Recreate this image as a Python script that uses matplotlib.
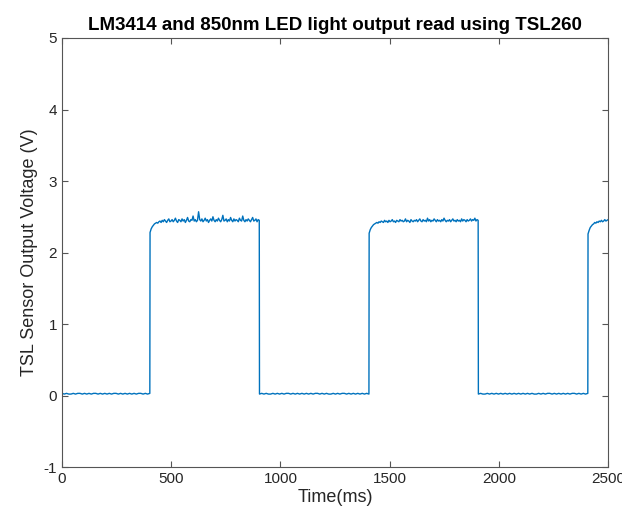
import numpy as np
import matplotlib
matplotlib.use('Agg')
import matplotlib.pyplot as plt

# Edge times (ms)
rise_times = [403, 1406, 2408]
fall_times = [903, 1905]
t_end = 2500

# Low level readings (V), roughly every 10 ms
low1 = [0.03, 0.02, 0.03, 0.02, 0.02, 0.03, 0.02, 0.03, 0.03, 0.02,
        0.03, 0.02, 0.03, 0.02, 0.03, 0.03, 0.02, 0.03, 0.02, 0.03,
        0.02, 0.03, 0.02, 0.03, 0.03, 0.02, 0.03, 0.02, 0.03, 0.02,
        0.03, 0.02, 0.03, 0.02, 0.03, 0.03, 0.02, 0.03, 0.02, 0.03]
low2 = [0.02, 0.03, 0.02, 0.03, 0.02, 0.02, 0.03, 0.02, 0.03, 0.02,
        0.03, 0.02, 0.03, 0.03, 0.02, 0.03, 0.02, 0.03, 0.02, 0.03,
        0.02, 0.03, 0.02, 0.03, 0.02, 0.03, 0.03, 0.02, 0.03, 0.02,
        0.03, 0.02, 0.02, 0.03, 0.02, 0.03, 0.02, 0.03, 0.03, 0.02,
        0.03, 0.02, 0.03, 0.02, 0.03, 0.02, 0.03, 0.02, 0.03, 0.02]
low3 = [0.02, 0.03, 0.02, 0.02, 0.03, 0.02, 0.03, 0.02, 0.03, 0.02,
        0.03, 0.02, 0.03, 0.02, 0.03, 0.02, 0.03, 0.02, 0.03, 0.02,
        0.03, 0.02, 0.03, 0.02, 0.03, 0.02, 0.02, 0.03, 0.02, 0.03,
        0.02, 0.03, 0.03, 0.02, 0.03, 0.02, 0.03, 0.02, 0.03, 0.02,
        0.03, 0.02, 0.03, 0.03, 0.02, 0.03, 0.02, 0.03, 0.02, 0.03]

# High level readings (V), roughly every 5 ms
high1 = [2.28, 2.33, 2.36, 2.38, 2.40, 2.41, 2.42, 2.41, 2.43, 2.44,
         2.42, 2.45, 2.43, 2.46, 2.44, 2.42, 2.45, 2.47, 2.43, 2.44,
         2.46, 2.43, 2.45, 2.48, 2.44, 2.42, 2.46, 2.45, 2.43, 2.47,
         2.44, 2.46, 2.42, 2.45, 2.49, 2.44, 2.43, 2.46, 2.45, 2.51,
         2.44, 2.46, 2.43, 2.45, 2.57, 2.46, 2.44, 2.47, 2.43, 2.45,
         2.48, 2.44, 2.46, 2.42, 2.45, 2.47, 2.44, 2.50, 2.45, 2.43,
         2.46, 2.44, 2.48, 2.45, 2.43, 2.46, 2.52, 2.44, 2.45, 2.47,
         2.43, 2.46, 2.44, 2.49, 2.45, 2.43, 2.47, 2.44, 2.46, 2.45,
         2.43, 2.48, 2.45, 2.44, 2.51, 2.45, 2.43, 2.46, 2.44, 2.47,
         2.45, 2.43, 2.46, 2.49, 2.44, 2.45, 2.47, 2.43, 2.46, 2.45]
high2 = [2.27, 2.32, 2.35, 2.37, 2.39, 2.40, 2.41, 2.42, 2.41, 2.43,
         2.42, 2.44, 2.43, 2.42, 2.45, 2.43, 2.44, 2.42, 2.45, 2.43,
         2.44, 2.46, 2.43, 2.44, 2.42, 2.45, 2.44, 2.43, 2.46, 2.44,
         2.45, 2.43, 2.44, 2.47, 2.43, 2.45, 2.44, 2.42, 2.46, 2.44,
         2.43, 2.45, 2.44, 2.46, 2.43, 2.45, 2.47, 2.44, 2.43, 2.46,
         2.44, 2.45, 2.43, 2.48, 2.44, 2.46, 2.43, 2.45, 2.44, 2.47,
         2.45, 2.43, 2.46, 2.44, 2.45, 2.43, 2.46, 2.44, 2.48, 2.45,
         2.43, 2.45, 2.44, 2.46, 2.43, 2.45, 2.47, 2.44, 2.45, 2.43,
         2.46, 2.44, 2.45, 2.43, 2.47, 2.44, 2.46, 2.45, 2.43, 2.46,
         2.44, 2.45, 2.47, 2.44, 2.46, 2.45, 2.48, 2.44, 2.46, 2.45]
high3 = [2.26, 2.31, 2.35, 2.37, 2.39, 2.40, 2.42, 2.41, 2.43, 2.42,
         2.44, 2.43, 2.45, 2.43, 2.44, 2.46, 2.44, 2.45, 2.46]

############################################################

# Stitch the segments together
lows = [low1, low2, low3]
highs = [high1, high2, high3]
starts_low = [0] + [f + 1 for f in fall_times]
ends_low = [r - 1 for r in rise_times]
ends_high = fall_times + [t_end]

t_all, v_all = [], []
for i in range(3):
    t_all += list(np.linspace(starts_low[i], ends_low[i], len(lows[i])))
    v_all += lows[i]
    t_all += list(np.linspace(rise_times[i], ends_high[i], len(highs[i])))
    v_all += highs[i]

############################################################

plt.rcParams['font.family'] = ['Liberation Sans', 'DejaVu Sans']
plt.rcParams['axes.unicode_minus'] = False

fig = plt.figure(figsize=(6.22, 5.17), dpi=100, facecolor='white')
ax = fig.add_axes([0.0997, 0.0967, 0.878, 0.8298])

ax.plot(t_all, v_all, color='#0072BD', lw=1.0)

ax.set_xlim(0, 2500)
ax.set_ylim(-1, 5)
ax.set_xticks([0, 500, 1000, 1500, 2000, 2500])
ax.set_yticks([-1, 0, 1, 2, 3, 4, 5])

grey = '#262626'
for s in ax.spines.values():
    s.set_color('#555555')
    s.set_linewidth(0.8)
ax.tick_params(direction='in', top=True, right=True, length=4,
               labelsize=11, color='#555555', labelcolor=grey)

ax.set_title('LM3414 and 850nm LED light output read using TSL260',
             fontsize=13.5, fontweight='bold', color='black', pad=6)
ax.set_xlabel('Time(ms)', fontsize=13, color=grey, labelpad=2)
ax.set_ylabel('TSL Sensor Output Voltage (V)', fontsize=13, color=grey)

plt.savefig('out.png', dpi=100)
